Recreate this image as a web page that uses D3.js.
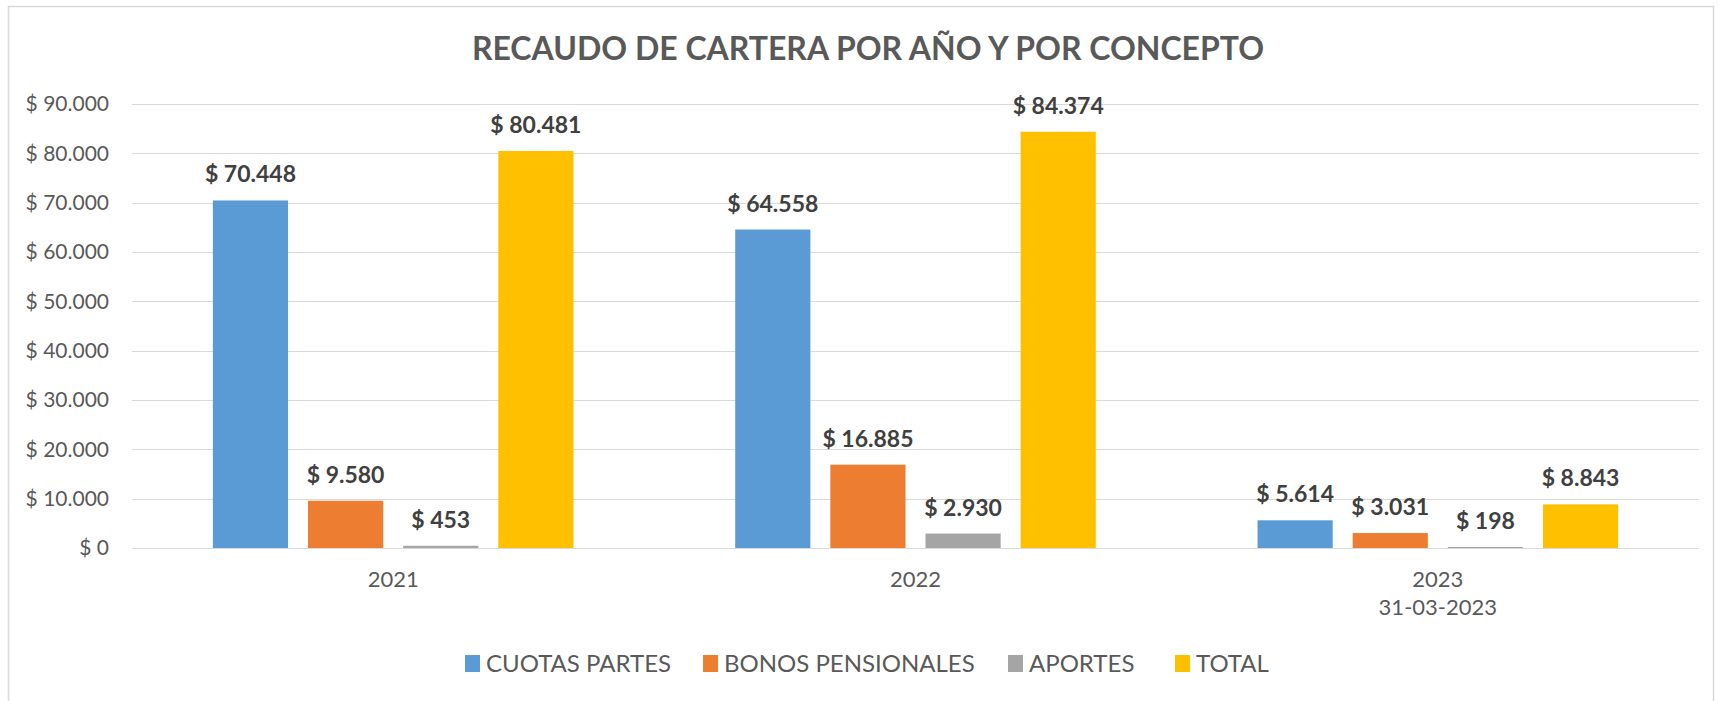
<!DOCTYPE html>
<html><head><meta charset="utf-8">
<script src="https://cdn.jsdelivr.net/npm/d3@7"></script>
<style>body{margin:0;background:#fff}svg{display:block}</style>
</head><body>
<svg id="c" width="1733" height="701"></svg>
<script>
const years = ["2021", "2022", "2023"];
const yearSub = ["", "", "31-03-2023"];
const series = ["CUOTAS PARTES", "BONOS PENSIONALES", "APORTES", "TOTAL"];
const cuotasPartes = [70448, 64558, 5614];
const bonosPensionales = [9580, 16885, 3031];
const aportes = [453, 2930, 198];
const total = [80481, 84374, 8843];
const yTicks = [0, 10000, 20000, 30000, 40000, 50000, 60000, 70000, 80000, 90000];
const colors = ["#5B9BD5", "#ED7D31", "#A5A5A5", "#FFC000"];
const title = "RECAUDO DE CARTERA POR AÑO Y POR CONCEPTO";

const values = [cuotasPartes, bonosPensionales, aportes, total];
const fmt = v => "$ " + d3.format(",")(v).replace(/,/g, ".");

const svg = d3.select("#c");
const font = "Lato, 'Open Sans', sans-serif";
const pLeft = 132, pRight = 1699, pTop = 104, pBottom = 548;

svg.append("rect").attr("x", 8.5).attr("y", 6.5).attr("width", 1705).attr("height", 720)
  .attr("fill", "#fff").attr("stroke", "#D9D9D9").attr("stroke-width", 1.5);

const y = d3.scaleLinear().domain([0, 90000]).range([pBottom, pTop]);
const x0 = d3.scaleBand().domain(years).range([pLeft, pRight]).padding(0);
const x1 = d3.scaleBand().domain(series).range([0, x0.bandwidth()]).paddingInner(0.21).paddingOuter(0.85);

// grid
svg.append("g").selectAll("line").data(yTicks).join("line")
  .attr("x1", pLeft).attr("x2", pRight)
  .attr("y1", d => Math.round(y(d)) + 0.5).attr("y2", d => Math.round(y(d)) + 0.5)
  .attr("stroke", "#D9D9D9").attr("stroke-width", 1.2);

// y axis labels
const yAxis = d3.axisLeft(y).tickValues(yTicks).tickSize(0).tickPadding(0)
  .tickFormat(d => fmt(d));
const ya = svg.append("g").attr("transform", `translate(${109},0)`).call(yAxis);
ya.select(".domain").remove();
ya.selectAll("text").attr("font-family", font).attr("font-size", 21).attr("fill", "#595959");

// bars
const groups = svg.append("g").selectAll("g").data(years).join("g")
  .attr("transform", d => `translate(${x0(d)},0)`);
groups.each(function(yr, i) {
  const g = d3.select(this);
  series.forEach((s, j) => {
    const v = values[j][i];
    g.append("rect").attr("x", x1(s)).attr("width", x1.bandwidth())
      .attr("y", y(v)).attr("height", y(0) - y(v)).attr("fill", colors[j]);
    g.append("text").attr("x", x1(s) + x1.bandwidth() / 2).attr("y", y(v) - 18)
      .attr("text-anchor", "middle").attr("font-family", font).attr("font-weight", "bold")
      .attr("font-size", 23).attr("fill", "#404040").text(fmt(v));
  });
});

// x axis labels
const xAxis = d3.axisBottom(x0).tickSize(0).tickPadding(0);
const xa = svg.append("g").attr("transform", `translate(0,${587})`).call(xAxis);
xa.select(".domain").remove();
xa.selectAll("text").attr("font-family", font).attr("font-size", 22).attr("fill", "#595959").attr("dy", 0);
svg.append("g").selectAll("text").data(years).join("text")
  .attr("x", d => x0(d) + x0.bandwidth() / 2).attr("y", 615)
  .attr("text-anchor", "middle").attr("font-family", font).attr("font-size", 22).attr("fill", "#595959")
  .text((d, i) => yearSub[i]);

// title
svg.append("text").attr("x", 868).attr("y", 60).attr("text-anchor", "middle")
  .attr("font-family", font).attr("font-weight", "bold").attr("font-size", 32).attr("fill", "#595959")
  .text(title);

// legend
const legX = [465, 703, 1008, 1175];
const lg = svg.append("g").selectAll("g").data(series).join("g")
  .attr("transform", (d, i) => `translate(${legX[i]},${663})`);
lg.append("rect").attr("x", 0).attr("y", -8).attr("width", 15).attr("height", 17).attr("fill", (d, i) => colors[i]);
lg.append("text").attr("x", 21).attr("y", 9).attr("font-family", font).attr("font-size", 24)
  .attr("fill", "#595959").text(d => d);
</script>
</body></html>
